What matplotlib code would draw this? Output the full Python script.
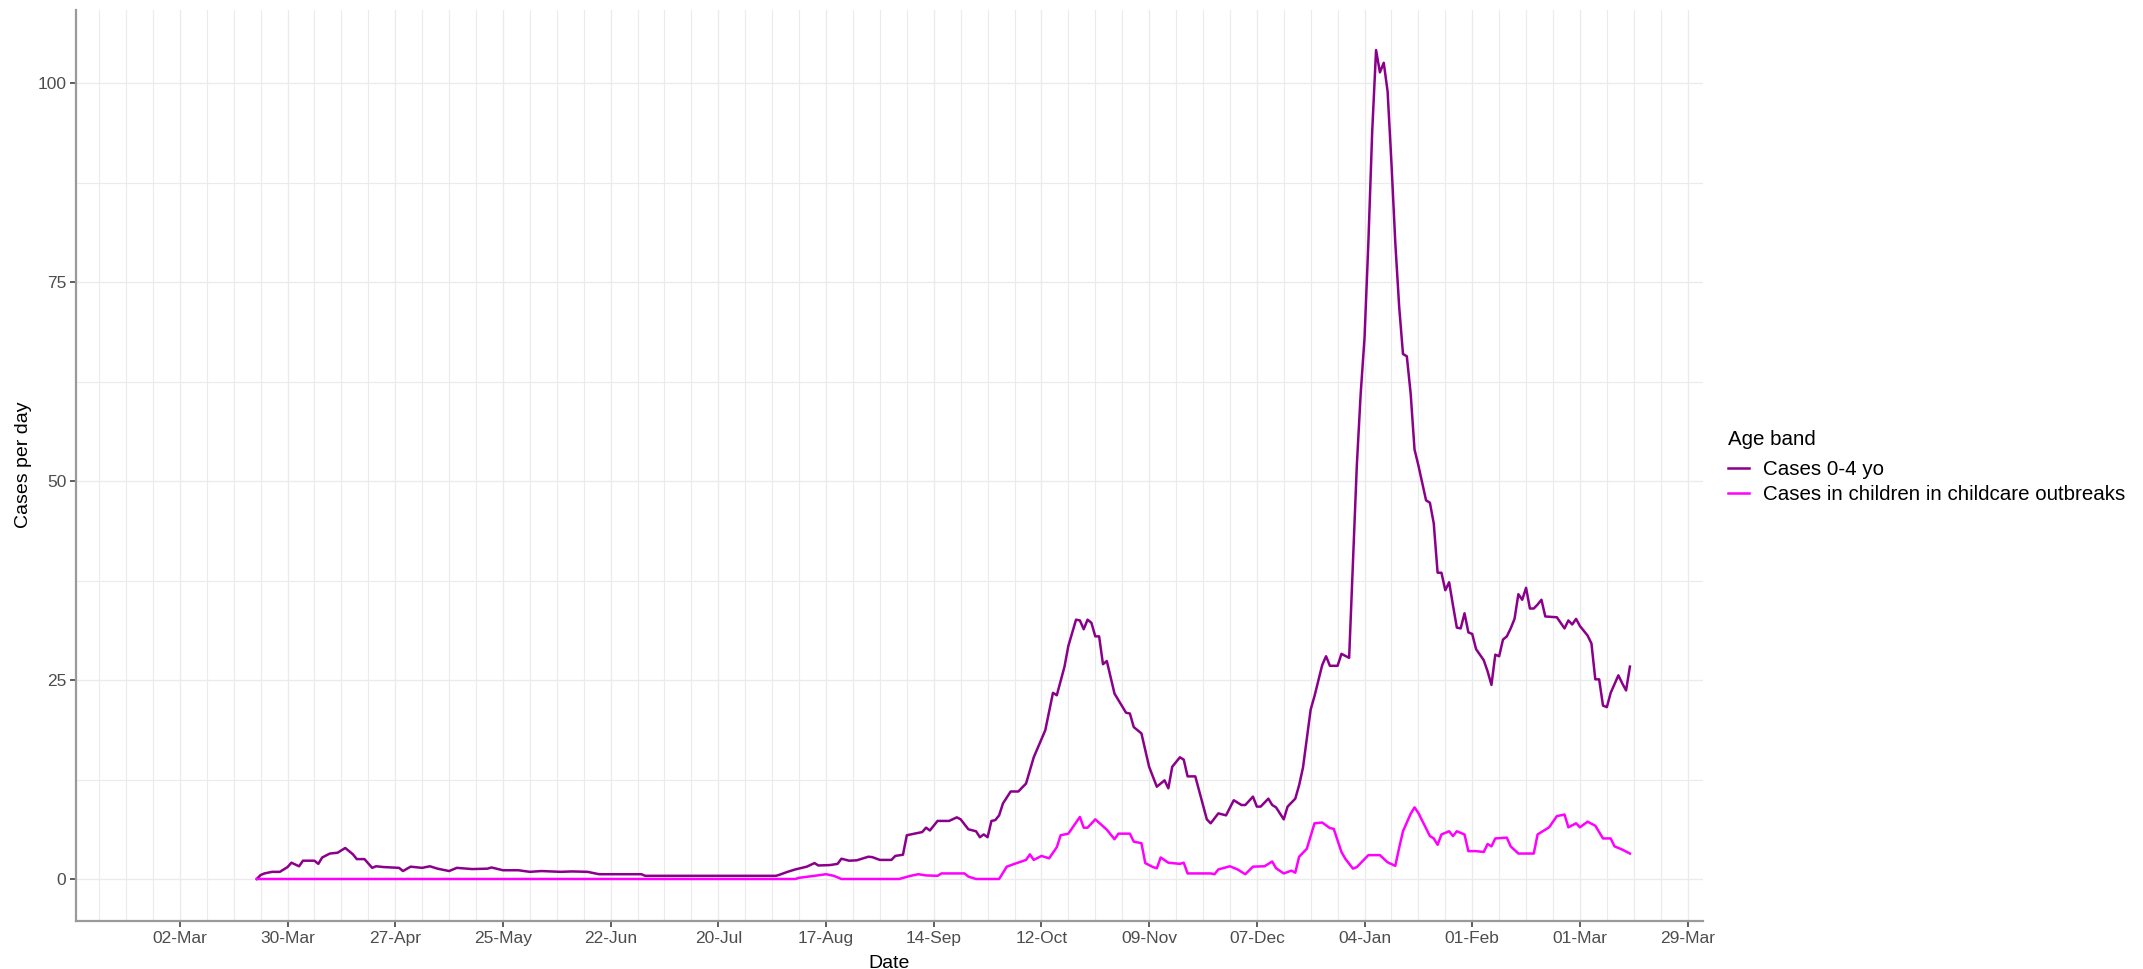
import numpy as np
import pandas as pd
import matplotlib
matplotlib.use("Agg")
import matplotlib.pyplot as plt
import matplotlib.dates as mdates
from matplotlib.ticker import MultipleLocator

plt.rcParams['font.family'] = ['Liberation Sans', 'DejaVu Sans']

# x values are days since 2020-03-02
START = "2020-03-02"

days_04 = [20, 21, 22, 24, 26, 28, 29, 31, 32, 35, 36, 37, 39, 41, 43, 45, 46, 48, 50, 51,
           53, 57, 58, 60, 63, 65, 67, 70, 72, 76, 80, 81, 84, 88, 91, 94, 99, 102, 106, 109,
           120, 121, 155, 156, 158, 160, 163, 165, 166, 169, 171, 172, 174, 176, 179, 180, 182, 185, 186, 188,
           189, 191, 193, 194, 195, 197, 200, 202, 203, 205, 207, 208, 209, 210, 211, 212, 213, 214, 216, 218,
           220, 222, 225, 227, 228, 230, 231, 233, 234, 235, 236, 237, 238, 239, 240, 241, 243, 246, 247, 248,
           250, 252, 254, 256, 257, 258, 260, 261, 262, 264, 267, 268, 270, 272, 274, 276, 277, 279, 280, 281,
           283, 284, 285, 287, 288, 290, 291, 292, 294, 295, 297, 298, 299, 301, 302, 304, 305, 306, 307, 308,
           309, 310, 311, 312, 313, 314, 315, 316, 317, 318, 319, 320, 321, 322, 324, 325, 326, 327, 328, 329,
           330, 331, 332, 333, 334, 335, 336, 337, 338, 339, 340, 341, 342, 343, 344, 345, 346, 347, 348, 349,
           350, 351, 352, 353, 354, 355, 358, 360, 361, 362, 363, 364, 366, 367, 368, 369, 370, 371, 372, 374,
           375, 376, 377]
cases_04 = [0, 0.5, 0.7, 0.9, 0.9, 1.5, 2.05, 1.6, 2.3, 2.3, 1.9, 2.7, 3.2, 3.3, 3.9, 3.1, 2.5, 2.5, 1.4, 1.6,
            1.5, 1.4, 1.0, 1.55, 1.4, 1.6, 1.3, 1.0, 1.4, 1.25, 1.3, 1.45, 1.1, 1.1, 0.9, 1.0, 0.9, 0.95, 0.9, 0.6,
            0.6, 0.4, 0.4, 0.55, 0.9, 1.2, 1.55, 2.0, 1.7, 1.75, 1.9, 2.55, 2.3, 2.35, 2.8, 2.75, 2.4, 2.4, 2.9, 3.05,
            5.5, 5.7, 5.9, 6.45, 6.1, 7.3, 7.3, 7.75, 7.5, 6.25, 6.0, 5.25, 5.6, 5.25, 7.3, 7.4, 8.0, 9.5, 11.0, 11.0,
            12.0, 15.3, 18.7, 23.4, 23.1, 26.7, 29.3, 32.6, 32.5, 31.4, 32.6, 32.2, 30.5, 30.5, 27.0, 27.4, 23.3, 20.9, 20.8, 19.1,
            18.3, 14.1, 11.6, 12.4, 11.4, 14.1, 15.3, 15.0, 12.9, 12.9, 7.5, 7.0, 8.25, 8.0, 9.9, 9.3, 9.3, 10.35, 9.1, 9.1,
            10.1, 9.3, 9.0, 7.5, 9.1, 10.1, 11.8, 14.0, 21.3, 23.0, 26.9, 28.0, 26.8, 26.8, 28.3, 27.8, 40.0, 52.0, 61.0, 68.0,
            80.0, 94.0, 104.2, 101.4, 102.6, 99.0, 90.0, 80.0, 72.0, 66.0, 65.7, 61.0, 54.0, 52.0, 47.6, 47.3, 44.7, 38.5, 38.5, 36.3,
            37.3, 34.4, 31.6, 31.5, 33.4, 31.0, 30.8, 28.9, 28.2, 27.5, 26.1, 24.4, 28.2, 28.0, 30.1, 30.5, 31.5, 32.7, 35.8, 35.1,
            36.6, 34.0, 34.0, 34.5, 35.1, 33.0, 32.9, 31.5, 32.5, 32.0, 32.7, 31.8, 30.6, 29.6, 25.1, 25.1, 21.8, 21.6, 23.4, 25.6,
            24.6, 23.7, 26.7]

days_cc = [20, 160, 161, 165, 168, 170, 172, 187, 190, 192, 194, 197, 198, 204, 205, 207, 213, 215, 217, 220,
           221, 222, 224, 226, 228, 229, 231, 234, 235, 236, 238, 241, 243, 244, 247, 248, 250, 251, 253, 254,
           255, 257, 260, 261, 262, 268, 269, 270, 273, 275, 277, 279, 282, 284, 285, 287, 289, 290, 291, 293,
           295, 297, 299, 300, 302, 303, 305, 306, 309, 312, 314, 316, 317, 318, 320, 321, 322, 325, 326, 327,
           328, 330, 331, 332, 334, 335, 337, 339, 340, 341, 342, 345, 346, 348, 352, 353, 356, 358, 360, 361,
           363, 364, 366, 368, 370, 372, 373, 375, 377]
cases_cc = [0, 0, 0.15, 0.4, 0.6, 0.4, 0, 0, 0.4, 0.6, 0.45, 0.4, 0.7, 0.7, 0.3, 0, 0, 1.55, 1.9, 2.4,
            3.1, 2.4, 2.9, 2.6, 4.0, 5.5, 5.7, 7.8, 6.45, 6.45, 7.5, 6.2, 5.0, 5.7, 5.7, 4.7, 4.5, 2.0, 1.5, 1.35,
            2.7, 2.05, 1.9, 2.05, 0.7, 0.7, 0.6, 1.2, 1.6, 1.2, 0.6, 1.55, 1.6, 2.2, 1.35, 0.7, 1.05, 0.8, 2.8, 3.8,
            7.0, 7.1, 6.4, 6.3, 3.4, 2.55, 1.3, 1.5, 3.0, 3.0, 2.1, 1.65, 3.9, 6.0, 8.2, 9.0, 8.3, 5.4, 5.1, 4.3,
            5.6, 6.0, 5.4, 6.0, 5.6, 3.5, 3.5, 3.4, 4.4, 4.1, 5.1, 5.2, 4.1, 3.2, 3.2, 5.6, 6.5, 7.9, 8.1, 6.5,
            7.0, 6.5, 7.2, 6.7, 5.1, 5.1, 4.1, 3.7, 3.2]

labels = ["Cases 0-4 yo", "Cases in children in childcare outbreaks"]
colors = ["#8B008B", "#FF00FF"]

d0 = pd.Timestamp(START)
x04 = d0 + pd.to_timedelta(days_04, unit="D")
xcc = d0 + pd.to_timedelta(days_cc, unit="D")

fig = plt.figure(figsize=(21.43, 9.69), dpi=100)
ax = fig.add_axes([76 / 2143, 48 / 969, (1703 - 76) / 2143, (921 - 9.5) / 969])

ax.plot(x04, cases_04, color=colors[0], lw=1.8, label=labels[0])
ax.plot(xcc, cases_cc, color=colors[1], lw=1.8, label=labels[1])

ax.set_xlim(pd.Timestamp("2020-02-04"), pd.Timestamp("2021-04-02"))
ax.set_ylim(-5.28, 109.3)

ticks = pd.date_range(START, periods=15, freq="28D")
ax.set_xticks(ticks)
ax.xaxis.set_major_formatter(mdates.DateFormatter("%d-%b"))
ax.set_xticks(pd.date_range("2020-02-10", "2021-04-02", freq="7D"), minor=True)
ax.yaxis.set_major_locator(MultipleLocator(25))
ax.yaxis.set_minor_locator(MultipleLocator(12.5))

ax.grid(which="major", color="#ebebeb", lw=1.0)
ax.grid(which="minor", color="#ebebeb", lw=0.8)
ax.set_axisbelow(True)

for s in ["top", "right"]:
    ax.spines[s].set_visible(False)
for s in ["left", "bottom"]:
    ax.spines[s].set_color("#9a9a9a")
    ax.spines[s].set_linewidth(1.6)

ax.tick_params(which="major", length=4, width=1.1, color="#333333", labelsize=12.5,
               labelcolor="#4d4d4d", pad=3)
ax.tick_params(which="minor", length=0)

ax.set_xlabel("Date", fontsize=14, color="black", labelpad=7)
ax.set_ylabel("Cases per day", fontsize=14, color="black", labelpad=4)

leg = ax.legend(title="Age band", loc="upper left", bbox_to_anchor=(1728 / 2143, 1 - 430 / 969),
                bbox_transform=fig.transFigure, frameon=False, fontsize=14.8, title_fontsize=14.8,
                handlelength=1.0, handletextpad=0.7, labelspacing=0.3, borderpad=0, borderaxespad=0,
                alignment="left")
leg._legend_box.sep = 8

fig.savefig("out.png", dpi=100, facecolor="white")
